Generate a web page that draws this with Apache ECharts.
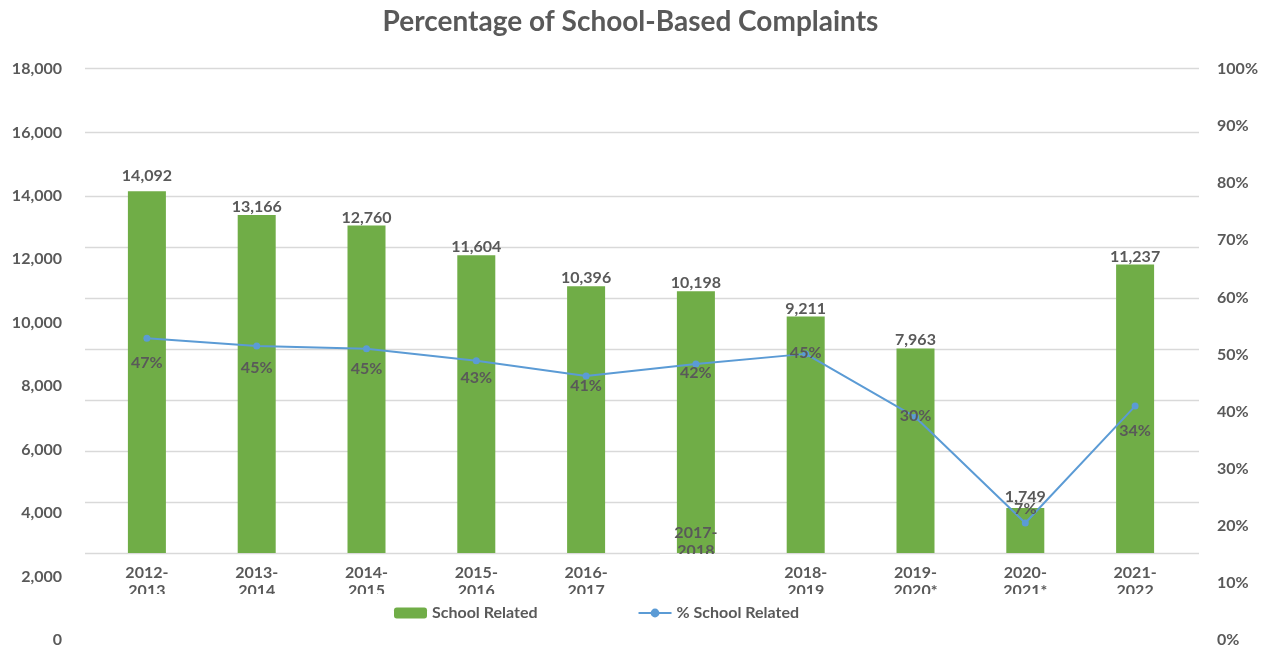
<!DOCTYPE html>
<html>
<head>
<meta charset="utf-8">
<script src="https://cdn.jsdelivr.net/npm/echarts@6/dist/echarts.min.js"></script>
<style>
html,body{margin:0;padding:0;background:#fff;}
#chart{width:1261px;height:648px;}
</style>
</head>
<body>
<div id="chart"></div>
<script>
// ---- data ----
const categories = ['2012-2013','2013-2014','2014-2015','2015-2016','2016-2017','2017-2018','2018-2019','2019-2020*','2020-2021*','2021-2022'];
const schoolRelated = [14092, 13166, 12760, 11604, 10396, 10198, 9211, 7963, 1749, 11237];
const pctSchoolRelated = [0.465, 0.448, 0.442, 0.416, 0.383, 0.409, 0.431, 0.294, 0.065, 0.318];
const pctLabels = ['47%','45%','45%','43%','41%','42%','45%','30%','7%','34%'];
const leftAxisMax = 18000, leftAxisStep = 2000;
const rightAxisMax = 1, rightAxisStep = 0.1;

// ---- styles ----
const TXT = '#595959';
const FONT = 'Lato';
const lineLabelDy = [25, 22, 20, 17, 10, 9, -1, -1, -14, 25];
const barLabelDy = [-7, 0, 0, 0, 0, 0, 0, -1, -3, 0];
const labelFont = {color: TXT, fontFamily: FONT, fontWeight: 'bold', fontSize: 16};

function fmtThousands(v){ return String(v).replace(/\B(?=(\d{3})+(?!\d))/g, ','); }
function splitCat(c){ const i = c.indexOf('-'); return c.slice(0, i+1) + '\n' + c.slice(i+1); }

const chart = echarts.init(document.getElementById('chart'));
chart.setOption({
  animation: false,
  backgroundColor: '#fff',
  title: {
    text: 'Percentage of School-Based Complaints',
    left: 'center', top: 3,
    textStyle: {color: TXT, fontFamily: FONT, fontWeight: 'bold', fontSize: 28}
  },
  legend: {
    left: 389, top: 599,
    itemWidth: 33, itemHeight: 11, itemGap: 100,
    textStyle: {color: TXT, fontFamily: FONT, fontWeight: 'bold', fontSize: 16, lineHeight: 18},
    data: ['School Related', '% School Related']
  },
  grid: [
    {left: 92, right: 71, top: 91, bottom: 95},     // data
    {left: 70, right: 51, top: 69, bottom: 7},      // axis tick labels
    {left: 85, right: 62, top: 196, bottom: 95},    // lower gridlines
    {left: 85, right: 62, top: 68, height: 64}      // upper gridlines
  ],
  xAxis: [
    {type: 'category', gridIndex: 0, data: categories,
     axisLine: {show: false}, axisTick: {show: false},
     axisLabel: Object.assign({interval: 0, margin: 11, lineHeight: 18,
       formatter: (v, i) => i === 5 ? '' : splitCat(v)}, labelFont)},
    {type: 'category', gridIndex: 0, data: categories, position: 'bottom', offset: -40, z: 5,
     axisLine: {show: false}, axisTick: {show: false},
     axisLabel: Object.assign({interval: 0, margin: 11, lineHeight: 18,
       formatter: (v, i) => i === 5 ? splitCat(v) : ''}, labelFont)},
    {type: 'value', gridIndex: 1, min: 0, max: 1, show: false},
    {type: 'value', gridIndex: 2, min: 0, max: 1, show: false},
    {type: 'value', gridIndex: 3, min: 0, max: 1, show: false}
  ],
  yAxis: [
    {type: 'value', gridIndex: 0, min: 0, max: leftAxisMax, interval: leftAxisStep,
     axisLabel: {show: false}, splitLine: {show: false}, axisLine: {show: false}, axisTick: {show: false}},
    {type: 'value', gridIndex: 0, position: 'right', min: 0, max: rightAxisMax, interval: rightAxisStep,
     axisLabel: {show: false}, splitLine: {show: false}, axisLine: {show: false}, axisTick: {show: false}},
    {type: 'value', gridIndex: 1, min: 0, max: leftAxisMax, interval: leftAxisStep,
     splitLine: {show: false}, axisLine: {show: false}, axisTick: {show: false},
     axisLabel: Object.assign({margin: 8, formatter: v => fmtThousands(v)}, labelFont)},
    {type: 'value', gridIndex: 1, position: 'right', min: 0, max: rightAxisMax, interval: rightAxisStep,
     splitLine: {show: false}, axisLine: {show: false}, axisTick: {show: false},
     axisLabel: Object.assign({margin: 8, formatter: v => Math.round(v * 100) + '%'}, labelFont)},
    {type: 'value', gridIndex: 2, min: 0, max: 7, interval: 1,
     axisLabel: {show: false}, axisLine: {show: false}, axisTick: {show: false},
     splitLine: {show: true, lineStyle: {color: '#d9d9d9', width: 1.3}}},
    {type: 'value', gridIndex: 3, min: 0, max: 1, interval: 1,
     axisLabel: {show: false}, axisLine: {show: false}, axisTick: {show: false},
     splitLine: {show: true, lineStyle: {color: '#d9d9d9', width: 1.3}}}
  ],
  series: [
    {name: 'School Related', type: 'bar', xAxisIndex: 0, yAxisIndex: 0,
     data: schoolRelated.map((v, i) => ({value: v, label: {offset: [0, barLabelDy[i]]}})),
     barWidth: 38,
     itemStyle: {color: '#70ad47'},
     label: Object.assign({show: true, position: 'top', distance: 0, lineHeight: 16,
       formatter: p => fmtThousands(p.value)}, labelFont)},
    {name: '% School Related', type: 'line', xAxisIndex: 0, yAxisIndex: 1,
     data: pctSchoolRelated.map((v, i) => ({value: v, label: {offset: [0, lineLabelDy[i]]}})),
     symbol: 'circle', symbolSize: 7, z: 3,
     lineStyle: {color: '#5b9bd5', width: 2},
     itemStyle: {color: '#5b9bd5'},
     label: Object.assign({show: true, position: 'inside',
       formatter: p => pctLabels[p.dataIndex]}, labelFont)}
  ],
  graphic: [
    {type: 'rect', z: 100, silent: true, shape: {x: 90, y: 594, width: 1105, height: 8}, style: {fill: '#fff'}},
    {type: 'rect', z: 100, silent: true, shape: {x: 660, y: 554, width: 70, height: 7}, style: {fill: '#fff'}}
  ]
});
</script>
</body>
</html>
